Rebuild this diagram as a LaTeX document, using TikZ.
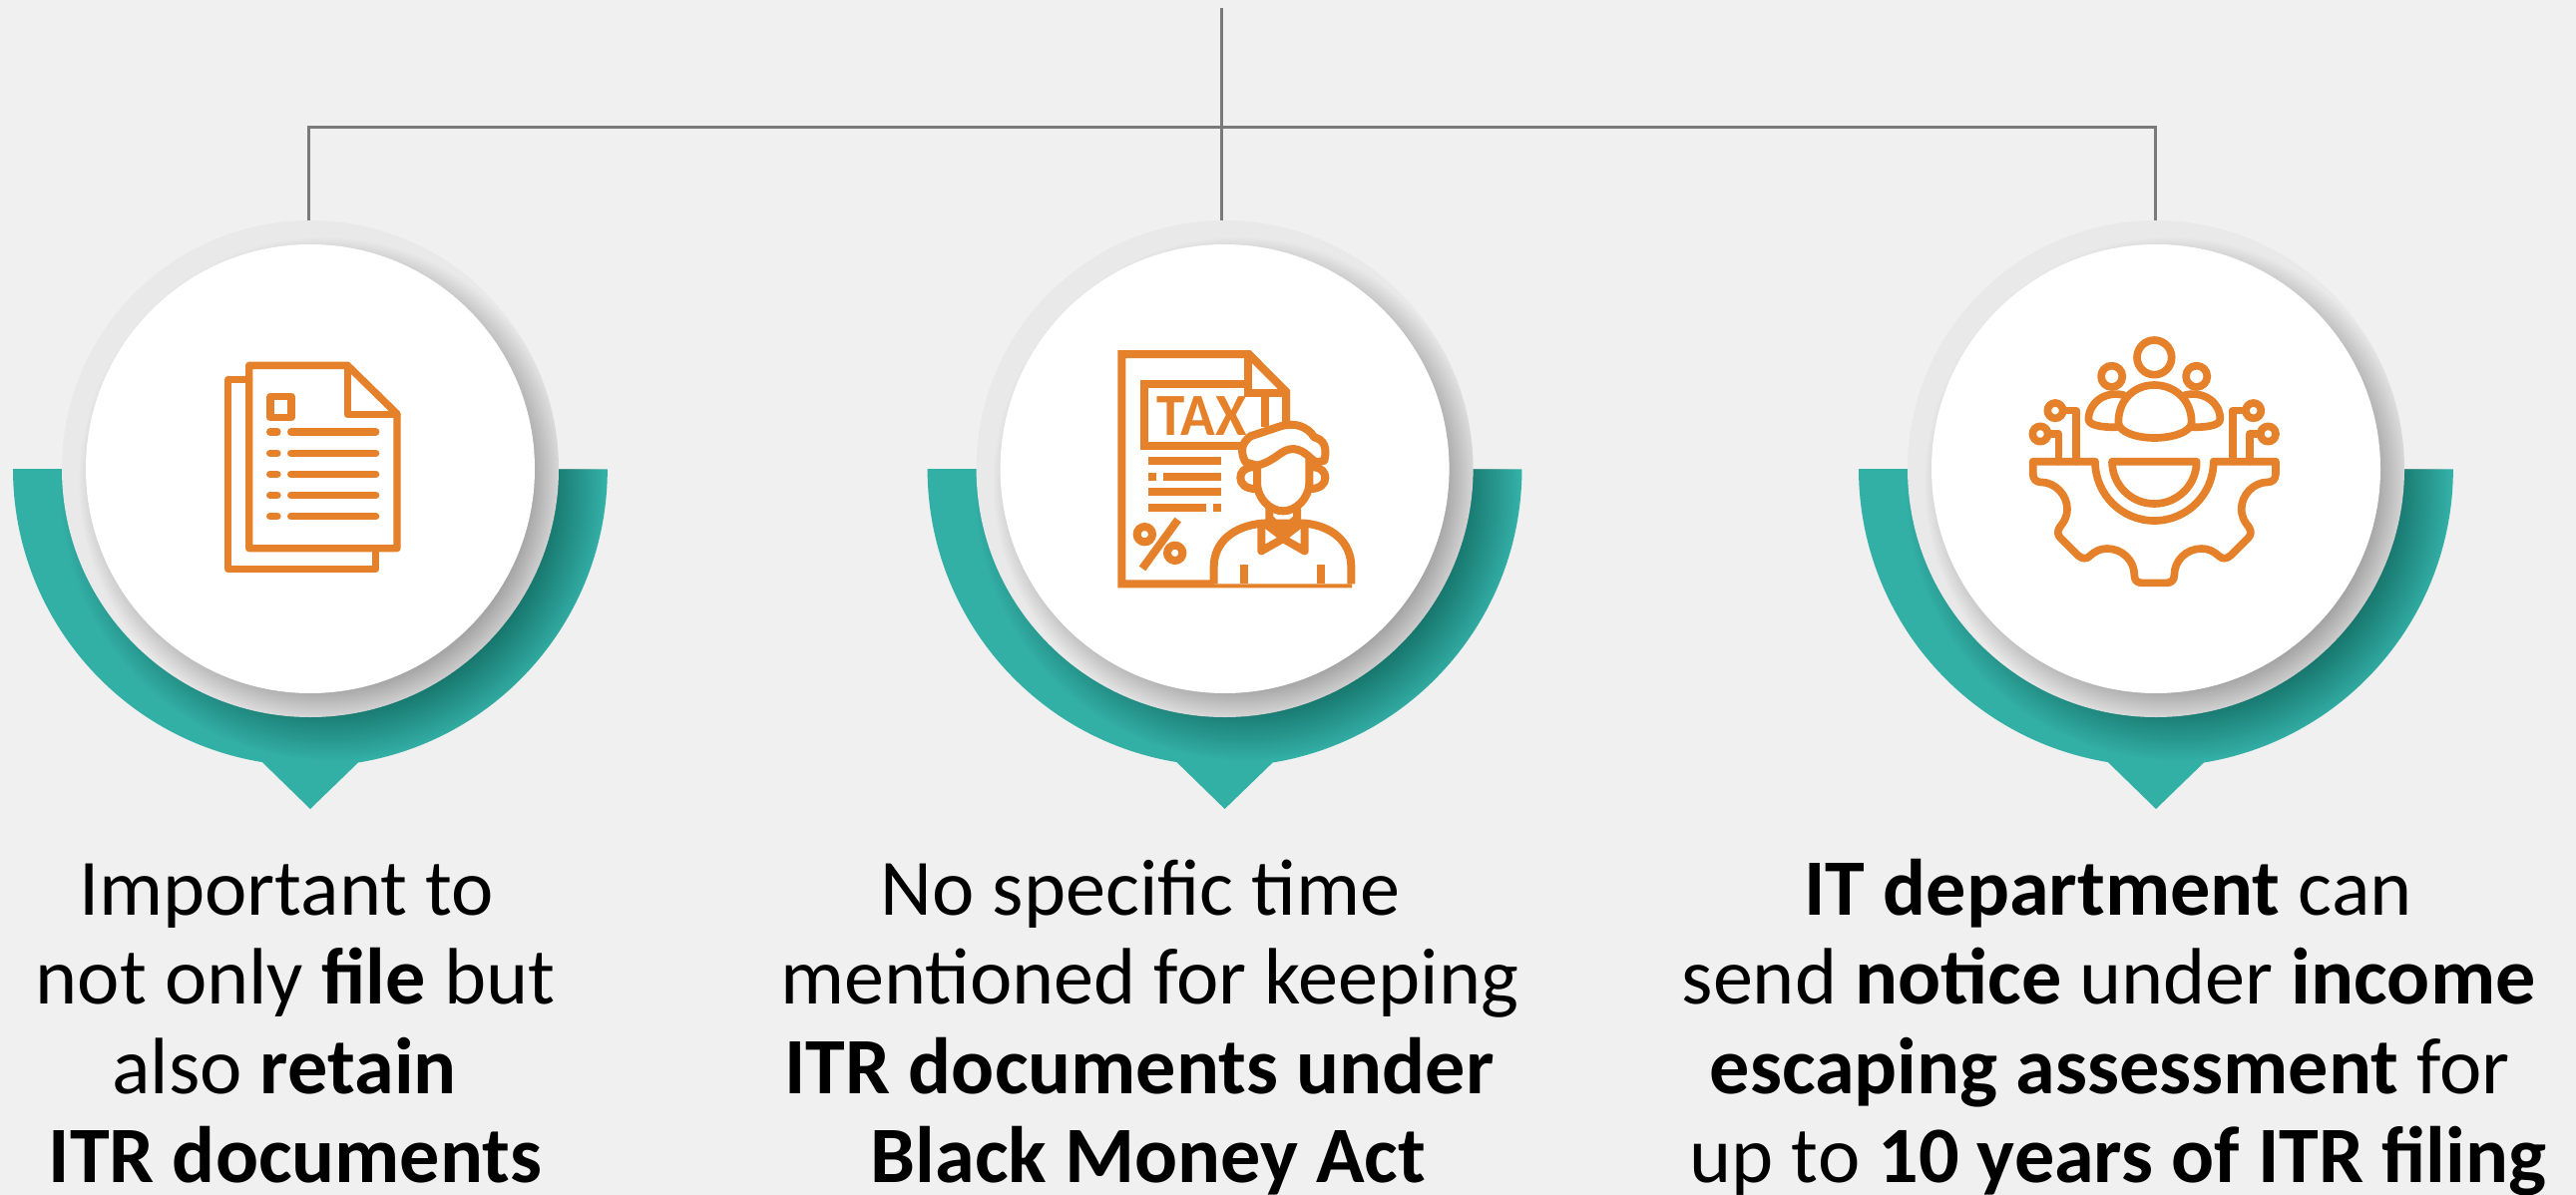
\documentclass[tikz,border=0pt]{standalone}
\usepackage{fontspec}
\setmainfont{Carlito}
\definecolor{bgc}{HTML}{F0F0F0}
\definecolor{teal1}{HTML}{33B0A5}
\definecolor{ring}{HTML}{E9E9E9}
\definecolor{org}{HTML}{E6812B}
\definecolor{conn}{HTML}{7A7A7A}
\tikzset{
  conn line/.style={draw=conn,line width=1.5pt},
  txt/.style={anchor=base,inner sep=0pt,font=\fontsize{40.1}{48}\selectfont,text=black},
  ico/.style={draw=org,line join=round,line cap=round},
}
% soft disc: cx, cy, inner radius, outer radius, total opacity, colour
\newcommand{\softdisc}[6]{%
  \foreach \k in {0,...,35}{%
    \pgfmathsetmacro{\rr}{#4-(#4-#3)*\k/35}%
    \pgfmathsetmacro{\aa}{#5/36*1.15}%
    \fill[#6,opacity=\aa] (#1,#2) circle[radius=\rr];%
  }%
}
\newcommand{\badge}[1]{%
  \fill[teal1] (#1-298,470) arc[start angle=180,end angle=99.3,radius=298]
     -- (#1,811) -- (#1+48,764.5) arc[start angle=80.7,end angle=0,radius=298] -- cycle;
  \begin{scope}
    \clip (#1-298,200) rectangle (#1+298,470) (#1,470) circle[radius=298];
    \softdisc{#1+22}{490}{205}{272}{0.38}{black}
  \end{scope}
  \fill[ring] (#1,470) circle[radius=249];
  \begin{scope}
    \clip (#1,470) circle[radius=249];
    \softdisc{#1+14}{484}{205}{246}{0.27}{black}
  \end{scope}
  \fill[white] (#1,470) circle[radius=225];
}
\begin{document}
\begin{tikzpicture}[x=.5pt,y=-.5pt]
\useasboundingbox (0,0) rectangle (2582,1198);
\fill[bgc] (0,0) rectangle (2582,1198);

% connectors
\coordinate (top) at (1224,8);
\coordinate (barL) at (309,128);
\coordinate (barR) at (2160,128);
\coordinate (endL) at (309,221);
\coordinate (endM) at (1224,221);
\coordinate (endR) at (2160,221);
\draw[conn line] (endL) -- (barL) -- (barR) -- (endR);
\draw[conn line] (top) -- (endM);

\badge{311}
\badge{1227.6}
\badge{2161}

% icon 1: documents
\begin{scope}[xshift=100pt,yshift=-170pt,x=.166667pt,y=-.166667pt,ico,line width=3.67pt]
  \draw (149,121) -- (86,121) -- (86,692) -- (530,692) -- (530,629);
  \draw (149,79) -- (445,79) -- (594,225) -- (594,629) -- (149,629) -- cycle;
  \draw (445,79) -- (445,227) -- (594,227);
  \draw (213,173) rectangle (276,236);
  \foreach \yy in {279,343,406,469,533}{
    \draw (212,\yy) -- (234,\yy);
    \draw (275,\yy) -- (530,\yy);
  }
\end{scope}

% icon 2: tax
\begin{scope}[xshift=540pt,yshift=-160pt,x=.166667pt,y=-.166667pt,ico,line width=4pt,line cap=butt,line join=miter]
  \draw (627,310) -- (627,218) -- (515,105) -- (133,105) -- (133,796) -- (825,796);
  \draw (512,105) -- (512,222) -- (627,222);
  \draw (512,196) -- (202,196) -- (202,380) -- (500,380);
  \draw (564,222) -- (564,325);
  \node[inner sep=0pt,text=org,anchor=base,xscale=.95,font=\fontsize{30}{30}\selectfont\bfseries] (taxword) at (374,348) {TAX};
  \fill[org] (213,415) rectangle (433,438);
  \fill[org] (213,461) rectangle (237,485);
  \fill[org] (259,461) rectangle (433,485);
  \fill[org] (213,508) rectangle (433,531);
  \fill[org] (213,554) rectangle (387,578);
  \fill[org] (409,554) rectangle (433,578);
  \draw (302,603) -- (195,750);
  \draw (202,647) circle[radius=23];
  \draw (293,703) circle[radius=23];
  % body
  \draw[fill=white] (410,796) -- (410,745) .. controls (410,670) and (470,622) .. (555,614)
     -- (685,614) .. controls (765,622) and (823,670) .. (823,745) -- (823,796);
  \draw[line join=round] (553,618) -- (553,697) -- (618,660) -- (683,697) -- (683,618);
  \draw (558,610) -- (618,656) -- (678,610);
  \draw (577,565) -- (577,598) -- (618,640) -- (660,598) -- (660,565);
  \draw (502,738) -- (502,796);
  \draw (732,738) -- (732,796);
  % ears
  \draw[fill=white] (528,445) .. controls (500,445) and (490,462) .. (490,477) .. controls (490,495) and (505,510) .. (535,510);
  \draw[fill=white] (708,445) .. controls (735,445) and (745,462) .. (745,477) .. controls (745,495) and (730,510) .. (700,510);
  % face
  \draw[fill=white] (540,430) -- (540,490) .. controls (540,540) and (580,577) .. (618,577) .. controls (656,577) and (697,540) .. (697,490) -- (697,420);
  % hair
  \draw[fill=white,line join=round] (505,430) .. controls (490,400) and (490,375) .. (520,352) -- (610,322)
     .. controls (650,310) and (690,320) .. (712,355) .. controls (740,362) and (752,385) .. (742,425)
     -- (720,430) .. controls (700,425) and (690,395) .. (650,390) .. controls (610,390) and (600,425) .. (540,440) -- cycle;
\end{scope}

% icon 3: team on a gear
\begin{scope}[xshift=1000pt,yshift=-160pt,x=.166667pt,y=-.166667pt,ico,line width=3.83pt]
  \draw (478,115) circle[radius=52];
  \draw (350,172) circle[radius=32];
  \draw (605,172) circle[radius=32];
  \draw (385,228) .. controls (330,215) and (282,250) .. (280,300) .. controls (280,320) and (320,325) .. (365,325);
  \draw (571,228) .. controls (626,215) and (676,250) .. (676,300) .. controls (676,320) and (636,325) .. (591,325);
  \draw (370,310) .. controls (370,240) and (420,198) .. (478,198) .. controls (536,198) and (590,240) .. (590,310)
        .. controls (590,340) and (530,357) .. (478,357) .. controls (426,357) and (370,340) .. (370,310) -- cycle;
  % gear
  \draw (113,428) -- (300,428) arc[start angle=180,end angle=0,radius=178] -- (843,428) -- (843,465)
     .. controls (843,482) and (832,490) .. (820,490)
     .. controls (775,490) and (740,530) .. (740,570)
     .. controls (740,595) and (750,610) .. (762,625)
     .. controls (770,637) and (770,648) .. (760,658)
     -- (708,710) .. controls (695,722) and (682,722) .. (672,712)
     .. controls (655,697) and (640,690) .. (620,690)
     .. controls (575,690) and (538,725) .. (538,770)
     .. controls (538,785) and (528,793) .. (515,793)
     -- (440,793) .. controls (427,793) and (418,785) .. (418,770)
     .. controls (418,725) and (381,690) .. (336,690)
     .. controls (316,690) and (301,697) .. (284,712)
     .. controls (274,722) and (261,722) .. (248,710)
     -- (196,658) .. controls (186,648) and (186,637) .. (194,625)
     .. controls (206,610) and (216,595) .. (216,570)
     .. controls (216,530) and (181,490) .. (136,490)
     .. controls (124,490) and (113,482) .. (113,465) -- cycle;
  \draw (351,428) -- (605,428) arc[start angle=0,end angle=180,radius=127] -- cycle;
  % antennae
  \draw (243,428) -- (243,275) -- (205,275);
  \draw (190,428) -- (190,345) -- (160,345);
  \draw (713,428) -- (713,275) -- (750,275);
  \draw (765,428) -- (765,345) -- (795,345);
  \draw[fill=white] (180,275) circle[radius=23];
  \draw[fill=white] (135,345) circle[radius=23];
  \draw[fill=white] (776,275) circle[radius=23];
  \draw[fill=white] (820,345) circle[radius=23];
\end{scope}

% texts
\node[txt] (t11) at (287,917) {Important to};
\node[txt] (t12) at (296,1006.7) {not only \textbf{file} but};
\node[txt] (t13) at (285,1096) {also \textbf{retain}};
\node[txt] (t14) at (296,1185.7) {\textbf{ITR documents}};
\node[txt] (t21) at (1143,917) {No specific time};
\node[txt] (t22) at (1152,1006.7) {mentioned for keeping};
\node[txt] (t23) at (1142,1096) {\textbf{ITR documents under}};
\node[txt] (t24) at (1151,1185.7) {\textbf{Black Money Act}};
\node[txt] (t31) at (2113,917) {\textbf{IT department} can};
\node[txt] (t32) at (2113.6,1006.7) {send \textbf{notice} under \textbf{income}};
\node[txt] (t33) at (2114.6,1096) {\textbf{escaping assessment} for};
\node[txt] (t34) at (2123,1185.7) {up to \textbf{10 years of ITR filing}};
\end{tikzpicture}
\end{document}
